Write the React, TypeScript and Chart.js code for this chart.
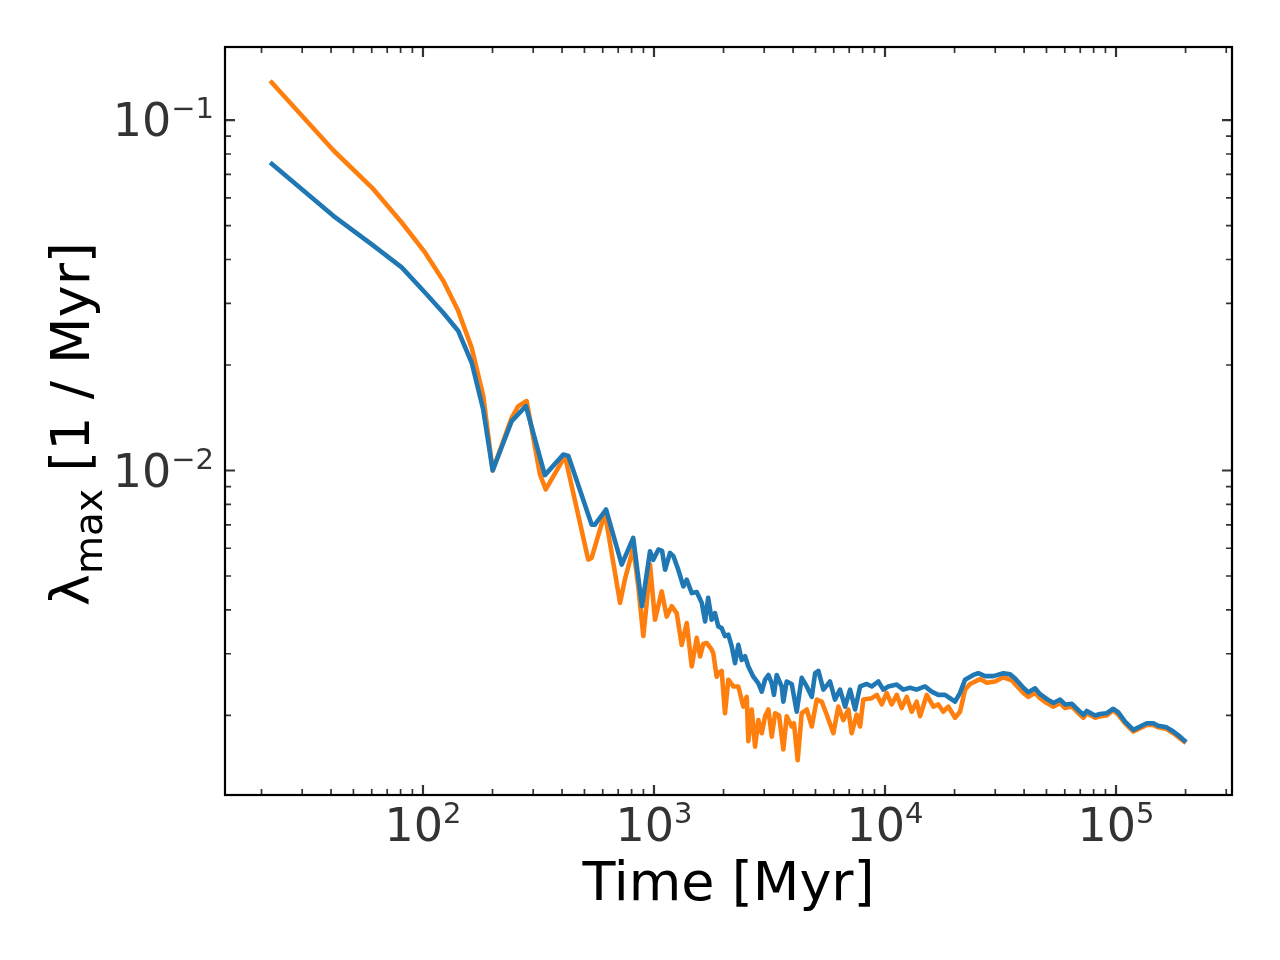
import React, { useEffect, useRef } from "react";
import { Chart, registerables } from "chart.js";

Chart.register(...registerables);

// ---------- data ----------
const blueTime = [
  21.8, 40.9, 60.0, 80.9, 102, 122.4, 142.2, 162.5, 182.4, 200.3,
  242, 279, 337, 405, 426, 537, 555, 620, 725, 813,
  887, 961, 993, 1045, 1084, 1117, 1173, 1213, 1274, 1340,
  1386, 1457, 1531, 1610, 1664, 1716, 1777, 1836, 1898, 1963,
  2029, 2098, 2170, 2243, 2318, 2397, 2478, 2561, 2692, 2830,
  2927, 3026, 3128, 3235, 3306, 3397, 3572, 3630, 3753, 3946,
  4148, 4360, 4584, 4819, 4982, 5148, 5411, 5781, 6077, 6388,
  6716, 7060, 7421, 7801, 8339, 8767, 9353, 9832, 10330, 11240,
  12000, 12830, 13710, 14890, 15920, 17010, 18190, 19120, 20100, 21130,
  22210, 24120, 25350, 27100, 29450, 32530, 34790, 36560, 39720, 41730,
  44610, 46890, 50120, 53570, 57270, 60170, 64310, 68730, 72230, 74700,
  81140, 85260, 91200, 97300, 102300, 109400, 118900, 127100, 135900, 145000,
  152400, 165600, 177000, 189200, 200900,
];
const blueLambda = [
  0.0757, 0.0533, 0.0442, 0.038, 0.0322, 0.0282, 0.025, 0.0203, 0.0149, 0.01,
  0.01383, 0.01526, 0.0097, 0.01111, 0.011, 0.00701, 0.00701, 0.00774, 0.00539, 0.00642,
  0.0041, 0.00588, 0.00556, 0.00595, 0.0059, 0.00521, 0.00582, 0.0057, 0.00521, 0.00467,
  0.00488, 0.00447, 0.0045, 0.00419, 0.00371, 0.00433, 0.00375, 0.00392, 0.00359, 0.00355,
  0.00337, 0.0034, 0.00315, 0.00282, 0.00318, 0.00288, 0.00295, 0.00276, 0.00258, 0.00247,
  0.00234, 0.00253, 0.00261, 0.00247, 0.00229, 0.00261, 0.00242, 0.00219, 0.0025, 0.00246,
  0.00205, 0.00256, 0.00242, 0.00226, 0.00264, 0.00268, 0.00237, 0.0025, 0.00222, 0.00237,
  0.00212, 0.00237, 0.00208, 0.00242, 0.00246, 0.00242, 0.0025, 0.00237, 0.00242, 0.00245,
  0.00237, 0.0024, 0.00237, 0.00242, 0.00234, 0.00229, 0.00229, 0.00224, 0.00219, 0.00232,
  0.00253, 0.00261, 0.00264, 0.00259, 0.00259, 0.00264, 0.00262, 0.00255, 0.0024, 0.00233,
  0.00239, 0.0023, 0.00223, 0.00217, 0.00222, 0.00215, 0.00216, 0.00207, 0.00201, 0.00206,
  0.002, 0.00202, 0.00203, 0.00209, 0.00204, 0.00192, 0.00182, 0.00186, 0.0019, 0.0019,
  0.00187, 0.00185, 0.0018, 0.00174, 0.00168,
];

const orangeTime = [
  21.8, 40.9, 60.9, 80.9, 102, 122.4, 142.2, 162.5, 182.4, 200.3,
  242, 258.5, 281, 321, 340, 412, 519, 537, 613, 713,
  748, 813, 855, 899, 930, 961, 1010, 1080, 1135, 1193,
  1254, 1318, 1386, 1457, 1531, 1583, 1635, 1691, 1778, 1806,
  1867, 1898, 1963, 2029, 2098, 2205, 2318, 2437, 2520, 2561,
  2649, 2738, 2830, 2927, 3026, 3128, 3235, 3344, 3479, 3630,
  3753, 3946, 4036, 4188, 4360, 4584, 4819, 5063, 5322, 5595,
  5976, 6281, 6603, 6941, 7174, 7541, 7801, 8056, 8767, 9214,
  9686, 10160, 10690, 11240, 11810, 12420, 13050, 13710, 14180, 15160,
  16200, 17010, 17880, 18790, 20100, 21130, 22210, 23340, 25780, 27570,
  29940, 32530, 35370, 36560, 39720, 41730, 44610, 46890, 50120, 53570,
  57270, 60170, 64310, 68730, 72230, 74700, 81140, 85260, 91200, 97300,
  102300, 109400, 118900, 127100, 135900, 145000, 152400, 165600, 177000, 189200,
  200900,
];
const orangeLambda = [
  0.1294, 0.082, 0.0636, 0.051, 0.0419, 0.0348, 0.0285, 0.0224, 0.0163, 0.01,
  0.01414, 0.01526, 0.01578, 0.00974, 0.00883, 0.01099, 0.00557, 0.00563, 0.00757, 0.00419,
  0.00488, 0.00601, 0.00467, 0.00337, 0.00419, 0.00539, 0.00375, 0.00452, 0.00383, 0.0041,
  0.00392, 0.00318, 0.00367, 0.00276, 0.00333, 0.00295, 0.0032, 0.00322, 0.00308, 0.00301,
  0.00258, 0.00264, 0.00268, 0.00203, 0.00253, 0.00242, 0.00242, 0.00212, 0.00226, 0.00169,
  0.00208, 0.00163, 0.00194, 0.00178, 0.00199, 0.00208, 0.00174, 0.00203, 0.002, 0.0016,
  0.00199, 0.00186, 0.0019, 0.00149, 0.00203, 0.00208, 0.00186, 0.00222, 0.00219, 0.00201,
  0.00178, 0.00212, 0.00194, 0.00208, 0.00178, 0.00201, 0.00186, 0.00222, 0.00224, 0.00229,
  0.00215, 0.00232, 0.00215, 0.00229, 0.0021, 0.00226, 0.00205, 0.00219, 0.00199, 0.00229,
  0.00212, 0.00215, 0.00205, 0.00212, 0.00197, 0.00205, 0.00237, 0.00246, 0.00254, 0.00248,
  0.0025, 0.00257, 0.00252, 0.00246, 0.00232, 0.00226, 0.00232, 0.00224, 0.00217, 0.00212,
  0.00217, 0.0021, 0.00212, 0.00203, 0.00197, 0.00203, 0.00197, 0.00199, 0.002, 0.00207,
  0.00201, 0.0019, 0.0018, 0.00184, 0.00188, 0.00188, 0.00185, 0.00183, 0.00178, 0.00172,
  0.00167,
];

// axis limits and ticks
const xLimits = [13.9, 317700];
const yLimits = [0.001186, 0.1616];
const xMajorTicks = [100, 1000, 10000, 100000];
const xTickExponents = ["2", "3", "4", "5"];
const yMajorTicks = [0.01, 0.1];
const yTickExponents = ["\u22122", "\u22121"];
const xDecades = [10, 100, 1000, 10000, 100000];
const yDecades = [0.001, 0.01, 0.1];
const minorMultipliers = [2, 3, 4, 5, 6, 7, 8, 9];

const xTitle = "Time [Myr]";
const yTitleSymbol = "\u03bb";
const yTitleSub = "max";
const yTitleRest = " [1 / Myr]";

const BLUE = "#1f77b4";
const ORANGE = "#ff7f0e";
const FONT = "'DejaVu Sans', 'Liberation Sans', sans-serif";

const mplAxesPlugin = {
  id: "mplAxes",
  afterDraw(chart: any) {
    const { ctx, chartArea: a, scales } = chart;
    const xs = scales.x;
    const ys = scales.y;
    ctx.save();

    const inX = (v: number) => v >= xLimits[0] && v <= xLimits[1];
    const inY = (v: number) => v >= yLimits[0] && v <= yLimits[1];

    ctx.strokeStyle = "#333333";
    ctx.lineCap = "butt";
    const xTick = (v: number, len: number, w: number) => {
      const px = xs.getPixelForValue(v);
      ctx.lineWidth = w;
      ctx.beginPath();
      ctx.moveTo(px, a.bottom);
      ctx.lineTo(px, a.bottom - len);
      ctx.moveTo(px, a.top);
      ctx.lineTo(px, a.top + len);
      ctx.stroke();
    };
    const yTick = (v: number, len: number, w: number) => {
      const py = ys.getPixelForValue(v);
      ctx.lineWidth = w;
      ctx.beginPath();
      ctx.moveTo(a.left, py);
      ctx.lineTo(a.left + len, py);
      ctx.moveTo(a.right, py);
      ctx.lineTo(a.right - len, py);
      ctx.stroke();
    };
    xDecades.forEach((d) =>
      minorMultipliers.forEach((m) => {
        const v = d * m;
        if (inX(v)) xTick(v, 6, 1.7);
      })
    );
    yDecades.forEach((d) =>
      minorMultipliers.forEach((m) => {
        const v = d * m;
        if (inY(v)) yTick(v, 6, 1.7);
      })
    );
    xMajorTicks.forEach((v) => xTick(v, 10, 2.2));
    yMajorTicks.forEach((v) => yTick(v, 10, 2.2));

    // frame
    ctx.strokeStyle = "#000000";
    ctx.lineWidth = 2.2;
    ctx.strokeRect(a.left, a.top, a.right - a.left, a.bottom - a.top);

    // tick labels
    ctx.fillStyle = "#333333";
    ctx.textBaseline = "alphabetic";
    ctx.textAlign = "left";
    const mainFont = `46px ${FONT}`;
    const supFont = `29px ${FONT}`;
    xMajorTicks.forEach((v, i) => {
      const px = xs.getPixelForValue(v);
      ctx.font = mainFont;
      const w1 = ctx.measureText("10").width;
      ctx.font = supFont;
      const w2 = ctx.measureText(xTickExponents[i]).width;
      const x0 = px - (w1 + w2) / 2;
      const base = a.bottom + 46;
      ctx.font = mainFont;
      ctx.fillText("10", x0, base);
      ctx.font = supFont;
      ctx.fillText(xTickExponents[i], x0 + w1, base - 18);
    });
    yMajorTicks.forEach((v, i) => {
      const py = ys.getPixelForValue(v);
      ctx.font = mainFont;
      const w1 = ctx.measureText("10").width;
      ctx.font = supFont;
      const w2 = ctx.measureText(yTickExponents[i]).width;
      const right = a.left - 11;
      const x0 = right - w2 - w1;
      const base = py + 16;
      ctx.font = mainFont;
      ctx.fillText("10", x0, base);
      ctx.font = supFont;
      ctx.fillText(yTickExponents[i], x0 + w1, base - 18);
    });

    // x axis title
    ctx.fillStyle = "#000000";
    ctx.font = `54px ${FONT}`;
    ctx.textAlign = "center";
    ctx.fillText(xTitle, (a.left + a.right) / 2, 900);

    // y axis title (rotated)
    ctx.save();
    ctx.translate(89, (a.top + a.bottom) / 2 + 3);
    ctx.rotate(-Math.PI / 2);
    ctx.textAlign = "left";
    const bigFont = `54px ${FONT}`;
    const subFont = `39px ${FONT}`;
    ctx.font = bigFont;
    const wa = ctx.measureText(yTitleSymbol).width;
    const wc = ctx.measureText(yTitleRest).width;
    ctx.font = subFont;
    const wb = ctx.measureText(yTitleSub).width;
    const total = wa + wb + wc;
    let cx = -total / 2;
    ctx.font = bigFont;
    ctx.fillText(yTitleSymbol, cx, 0);
    cx += wa;
    ctx.font = subFont;
    ctx.fillText(yTitleSub, cx, 13);
    cx += wb;
    ctx.font = bigFont;
    ctx.fillText(yTitleRest, cx, 0);
    ctx.restore();

    ctx.restore();
  },
};

export default function App() {
  const canvasRef = useRef<HTMLCanvasElement | null>(null);

  useEffect(() => {
    const canvas = canvasRef.current;
    if (!canvas) return;
    const chart = new Chart(canvas, {
      type: "line",
      data: {
        datasets: [
          {
            label: "blue",
            data: blueTime.map((t, i) => ({ x: t, y: blueLambda[i] })),
            borderColor: BLUE,
            backgroundColor: BLUE,
            borderWidth: 4.6,
            pointRadius: 0,
            tension: 0,
            fill: false,
            borderJoinStyle: "round",
          },
          {
            label: "orange",
            data: orangeTime.map((t, i) => ({ x: t, y: orangeLambda[i] })),
            borderColor: ORANGE,
            backgroundColor: ORANGE,
            borderWidth: 4.6,
            pointRadius: 0,
            tension: 0,
            fill: false,
            borderJoinStyle: "round",
          },
        ],
      },
      options: {
        responsive: false,
        animation: false,
        events: [],
        layout: { padding: { left: 225, top: 47, right: 48, bottom: 165 } },
        scales: {
          x: { type: "logarithmic", min: xLimits[0], max: xLimits[1], display: false },
          y: { type: "logarithmic", min: yLimits[0], max: yLimits[1], display: false },
        },
        plugins: {
          legend: { display: false },
          tooltip: { enabled: false },
        },
      },
      plugins: [mplAxesPlugin],
    } as any);
    return () => chart.destroy();
  }, []);

  return (
    <div style={{ position: "absolute", left: 0, top: 0, width: 1280, height: 960, background: "#ffffff" }}>
      <canvas ref={canvasRef} width={1280} height={960} style={{ display: "block", width: 1280, height: 960 }} />
    </div>
  );
}
